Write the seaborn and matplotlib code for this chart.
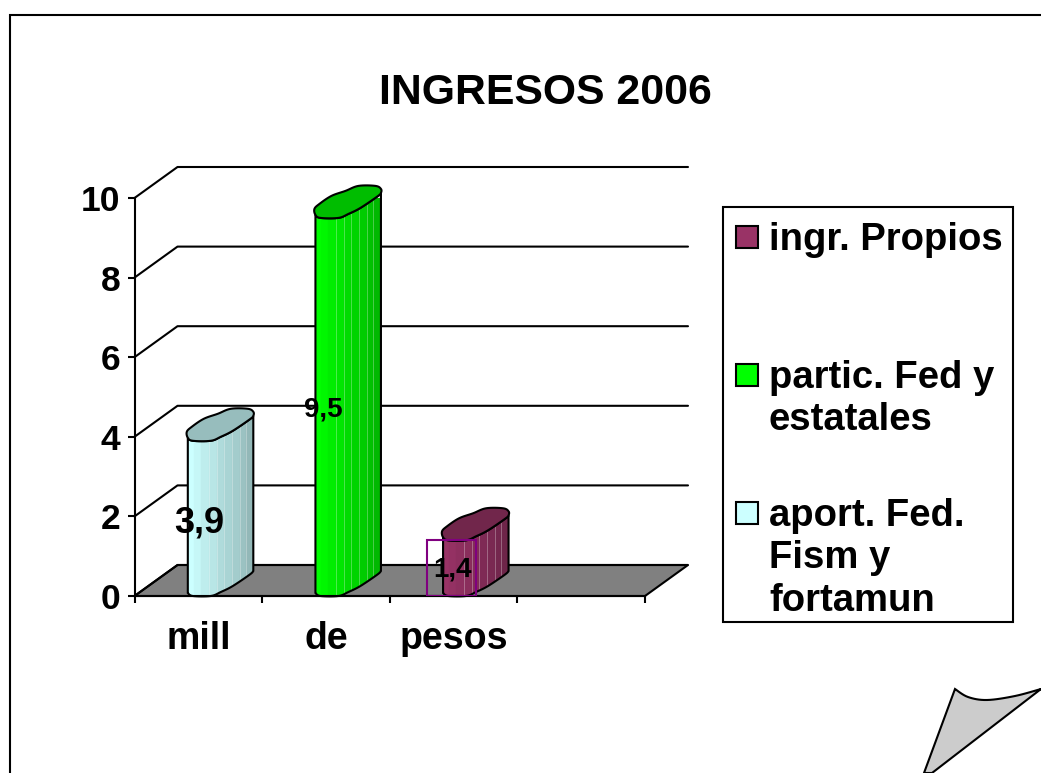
import numpy as np
import pandas as pd
import matplotlib
matplotlib.use('Agg')
import matplotlib.pyplot as plt
from matplotlib.patches import Polygon, Rectangle
import seaborn as sns

# values
categorias = ['mill', 'de', 'pesos', '']
valores = [3.9, 9.5, 1.4]
etiqueta_size = [26, 20, 20]
colores = ['#ccffff', '#00ff00', '#993366']
legend_labels = ['ingr. Propios', 'partic. Fed y\nestatales', 'aport. Fed.\nFism y\nfortamun']
legend_colors = ['#993366', '#00ff00', '#ccffff']
y_ticks = [0, 2, 4, 6, 8, 10]
titulo = 'INGRESOS 2006'

W, H = 1041, 773
PX = 4 / 510.5   # data units per pixel, x
PY = 10 / 398    # data units per pixel, y
DEPTH_X, DEPTH_Y = 43, 31

# shape of the 3D column top, pixels from front left corner
CAP = [(0, -9), (1, -3), (6, 0), (24, 0), (34, -4), (46, -10), (63, -21.5), (66.5, -25),
       (66.5, -29), (61, -32), (44, -32), (31, -27), (17, -22), (5, -14)]
STRIPS = [0, 7, 14, 22, 30, 37, 45, 53, 59, 67]
SHADE = [1, .97, .93, .9, .86, .83, .8, .76, .72]
LIGHT_LINES = [22, 30, 37, 45, 53, 59]


def smooth(pts, closed=False, n=10):
    pts = np.array(pts, dtype=float)
    if closed:
        idx = list(range(len(pts))) + [0]
    else:
        idx = list(range(len(pts)))
    out = []
    m = len(pts)
    for a in range(len(idx) - 1):
        i1, i2 = idx[a], idx[a + 1]
        if closed:
            p0, p3 = pts[(i1 - 1) % m], pts[(i2 + 1) % m]
        else:
            p0, p3 = pts[max(i1 - 1, 0)], pts[min(i2 + 1, m - 1)]
        p1, p2 = pts[i1], pts[i2]
        for t in np.linspace(0, 1, n, endpoint=False):
            out.append(.5 * (2 * p1 + (p2 - p0) * t + (2 * p0 - 5 * p1 + 4 * p2 - p3) * t ** 2
                             + (3 * p1 - p0 - 3 * p2 + p3) * t ** 3))
    if not closed:
        out.append(pts[-1])
    return np.array(out)


def to_data(off, x0, y0):
    off = np.asarray(off, dtype=float)
    return np.column_stack([x0 + off[:, 0] * PX, y0 - off[:, 1] * PY])


def dark(color, f):
    return tuple(c * f for c in matplotlib.colors.to_rgb(color))


sns.set_style('white')
plt.rcParams['font.family'] = ['Liberation Sans', 'DejaVu Sans']
plt.rcParams['font.weight'] = 'bold'

fig = plt.figure(figsize=(W / 100, H / 100), dpi=100, facecolor='white')

# page layer in pixel coords: frame, title, legend, page curl
bg = fig.add_axes([0, 0, 1, 1], zorder=0)
bg.set_xlim(0, W)
bg.set_ylim(H, 0)
bg.axis('off')
bg.plot([9.5, 9.5, W], [H, 15, 15], color='black', lw=1.5, solid_joinstyle='miter')
bg.text(545, 93, titulo, fontsize=30.8, ha='center', va='center', color='black')

curl_top = smooth([(955, 689), (968, 697), (987, 700), (1015, 696), (1041, 689)], n=8)
curl = np.vstack([curl_top, [(932, 773), (924, 773)]])
bg.add_patch(Polygon(curl, closed=True, facecolor='#cccccc', edgecolor='black', lw=1.5))

bg.add_patch(Rectangle((723, 207), 290, 415, facecolor='white', edgecolor='black', lw=1.5))
legend_y = [237, 375, 513]
for lab, col, ly in zip(legend_labels, legend_colors, legend_y):
    bg.add_patch(Rectangle((735.5, ly - 11), 22, 22, facecolor=col, edgecolor='black', lw=1.5))
    bg.text(769, ly - 15, lab, fontsize=27.5, va='top', ha='left', color='black', linespacing=1.23)

# chart layer
ax = fig.add_axes([134.5 / W, 1 - 596 / H, 510.5 / W, 398 / H], zorder=1)
ax.patch.set_alpha(0)

df = pd.DataFrame({'categoria': categorias[:3], 'valor': valores})
sns.barplot(data=df, x='categoria', y='valor', order=categorias, width=49 / 127.6,
            fill=False, color='black', errorbar=None, ax=ax, zorder=6)
bars = list(ax.containers[0])

xl = (-.5, 3.5)
dx, dy = DEPTH_X * PX, DEPTH_Y * PY

# floor and back wall
ax.add_patch(Polygon([(xl[0], 0), (xl[0] + dx, dy), (xl[1] + dx, dy), (xl[1], 0)], closed=True,
                     facecolor='#808080', edgecolor='black', lw=1.5, clip_on=False, zorder=1))
for v in y_ticks:
    ax.plot([xl[0], xl[0] + dx, xl[1] + dx], [v, v + dy, v + dy], color='black', lw=1.5,
            clip_on=False, zorder=2)

for b, v, col in zip(bars, valores, colores):
    centro = b.get_x() + b.get_width() / 2
    x0 = centro - 11.5 * PX
    low = smooth(CAP[1:8], n=8)
    body_pts = np.vstack([to_data(low, x0, 0), to_data(low[::-1], x0, v)])
    body = Polygon(body_pts, closed=True, facecolor='none', edgecolor='none', clip_on=False, zorder=3)
    ax.add_patch(body)
    for e0, e1, f in zip(STRIPS[:-1], STRIPS[1:], SHADE):
        r = Rectangle((x0 + e0 * PX, -1), (e1 - e0) * PX, v + 3, facecolor=dark(col, f),
                      edgecolor=dark(col, f), lw=.3, zorder=3.1)
        ax.add_patch(r)
        r.set_clip_path(body)
    for e in LIGHT_LINES:
        l, = ax.plot([x0 + e * PX] * 2, [-1, v + 2], color='white', alpha=.3, lw=.7, zorder=3.2)
        l.set_clip_path(body)
    ax.add_patch(Polygon(body_pts, closed=True, facecolor='none', edgecolor='black', lw=1.5,
                         clip_on=False, zorder=3.3))
    ax.add_patch(Polygon(to_data(smooth(CAP, closed=True, n=8), x0, v), closed=True,
                         facecolor=dark(col, .74), edgecolor='black', lw=1.5, clip_on=False, zorder=3.4))

# only the last flat bar shows its outline
for b in bars[:-1]:
    b.set_edgecolor('none')
bars[-1].set_edgecolor('#800080')
bars[-1].set_linewidth(1.5)
bars[-1].set_x(bars[-1].get_x() - 2 * PX)

etiquetas = ax.bar_label(ax.containers[0], labels=[str(v).replace('.', ',') for v in valores],
                         label_type='center', color='black', fontweight='bold', zorder=8)
nudge = [(1, -3), (-2, -2), (1, -1)]   # points, label offset from bar centre
for t, s, n in zip(etiquetas, etiqueta_size, nudge):
    t.set_fontsize(s)
    t.set_clip_on(False)
    t.xyann = n

ax.set_xlim(*xl)
ax.set_ylim(0, 10)
ax.set_xlabel('')
ax.set_ylabel('')
ax.set_xticks(np.arange(-.5, 4), labels=[])
ax.set_xticks(range(4), labels=categorias, minor=True)
ax.set_yticks(y_ticks)
ax.tick_params(axis='x', which='major', bottom=True, length=5, width=1.5, color='black')
ax.tick_params(axis='x', which='minor', bottom=False, length=0, labelsize=27, pad=18, labelcolor='black')
ax.tick_params(axis='y', left=True, length=5, width=1.5, color='black', labelsize=25.5, pad=5, labelcolor='black')
sns.despine(ax=ax)
for s in ['left', 'bottom']:
    ax.spines[s].set_color('black')
    ax.spines[s].set_linewidth(1.5)
    ax.spines[s].set_zorder(5)

fig.savefig('out.png', dpi=100)
